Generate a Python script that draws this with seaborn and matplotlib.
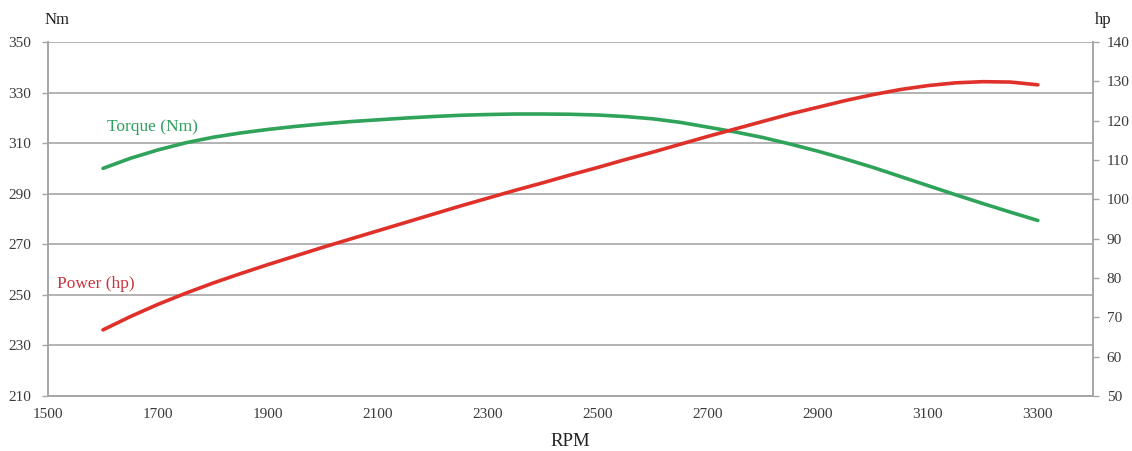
import numpy as np
import pandas as pd
import matplotlib
matplotlib.use('Agg')
import matplotlib.pyplot as plt
import seaborn as sns

# Engine curve readings (every 50 rpm)
rpm = [1600, 1650, 1700, 1750, 1800, 1850, 1900, 1950, 2000, 2050,
       2100, 2150, 2200, 2250, 2300, 2350, 2400, 2450, 2500, 2550,
       2600, 2650, 2700, 2750, 2800, 2850, 2900, 2950, 3000, 3050,
       3100, 3150, 3200, 3250, 3300]
torque_nm = [300.0, 304.0, 307.3, 310.1, 312.3, 314.0, 315.4, 316.6, 317.6, 318.5,
             319.2, 319.9, 320.5, 321.0, 321.3, 321.5, 321.5, 321.4, 321.1, 320.5,
             319.6, 318.2, 316.3, 314.4, 312.2, 309.6, 306.8, 303.7, 300.4, 296.8,
             293.2, 289.6, 286.1, 282.7, 279.4]
power_hp = [66.8, 70.2, 73.3, 76.1, 78.7, 81.1, 83.4, 85.6, 87.8, 89.9,
            92.0, 94.1, 96.2, 98.3, 100.3, 102.3, 104.2, 106.2, 108.1, 110.1,
            112.0, 114.0, 116.0, 117.9, 119.8, 121.7, 123.4, 125.1, 126.6, 127.9,
            128.9, 129.6, 129.9, 129.8, 129.1]

x_ticks = list(range(1500, 3301, 200))
nm_ticks = list(range(210, 351, 20))
hp_ticks = list(range(50, 141, 10))

df = pd.DataFrame({'rpm': rpm, 'torque': torque_nm, 'power': power_hp})

sns.set_style('white')
plt.rcParams['font.family'] = ['Liberation Serif', 'DejaVu Serif']

grey = '#a6a6a6'
green = '#2fa35a'
red = '#e0302a'

fig = plt.figure(figsize=(11.32, 4.51), dpi=100)
ax = fig.add_axes([0.0424, 0.122, 0.923, 0.785])
ax2 = ax.twinx()

sns.lineplot(data=df, x='rpm', y='torque', ax=ax, color=green, linewidth=2.6)
sns.lineplot(data=df, x='rpm', y='power', ax=ax2, color=red, linewidth=2.6)

ax.set_xlim(1500, 3400)
ax.set_ylim(210, 350)
ax2.set_ylim(50, 140)
ax.set_xticks(x_ticks)
ax.set_yticks(nm_ticks)
ax2.set_yticks(hp_ticks)

ax.yaxis.grid(True, color=grey, linewidth=1.2)
ax.set_axisbelow(True)

for a in (ax, ax2):
    for s in a.spines.values():
        s.set_color(grey)
        s.set_linewidth(1.2)
    a.spines['top'].set_visible(False)
    a.tick_params(colors=grey, labelcolor='#3a3a3a', labelsize=11, length=4, width=1)
ax.tick_params(axis='y', pad=8)
ax.tick_params(axis='x', pad=6, direction='inout', length=6)
ax2.tick_params(axis='y', pad=6)

ax.set_xlabel('RPM', fontsize=13.5, color='#222222', labelpad=8)
ax.set_ylabel('')
ax2.set_ylabel('')

fig.text(0.05, 0.955, 'Nm', fontsize=12, color='#222222', ha='center', va='center')
fig.text(0.975, 0.955, 'hp', fontsize=12, color='#222222', ha='center', va='center')

ax.text(1607, 316.4, 'Torque (Nm)', color='#2e9e5e', fontsize=12.5, va='center', ha='left')
ax.text(1516, 254.3, 'Power (hp)', color='#c8353f', fontsize=12.5, va='center', ha='left')

fig.savefig('out.png', dpi=100)
